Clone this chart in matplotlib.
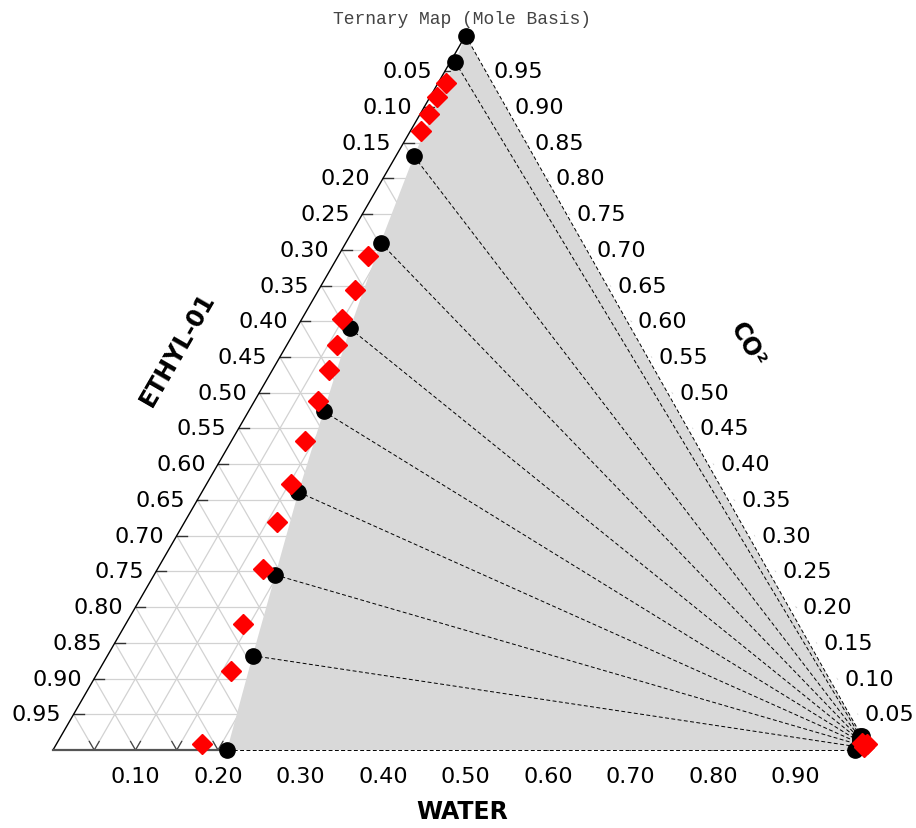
import numpy as np
import matplotlib
matplotlib.use("Agg")
import matplotlib.pyplot as plt

# ternary data: W = water fraction, C = CO2 fraction (ethyl = 1 - W - C)
# phase boundary points (organic side, black dots)
dot_w = [0.000, 0.006, 0.022, 0.042, 0.065, 0.091, 0.117, 0.147, 0.176, 0.211]
dot_c = [1.000, 0.963, 0.831, 0.710, 0.590, 0.474, 0.361, 0.245, 0.132, 0.000]

# water-rich ends of the tie lines
tie_w = [0.970, 0.969, 0.970, 0.971, 0.972, 0.973, 0.974, 0.975, 0.976, 0.972]
tie_c = [0.020, 0.019, 0.017, 0.015, 0.013, 0.011, 0.009, 0.007, 0.004, 0.000]

# red diamonds (second data set)
red_w = [0.010, 0.009, 0.011, 0.013, 0.036, 0.044, 0.049, 0.061, 0.069, 0.077,
         0.089, 0.103, 0.112, 0.128, 0.142, 0.160, 0.176,
         0.976, 0.979, 0.981, 0.983]
red_c = [0.933, 0.914, 0.890, 0.867, 0.692, 0.644, 0.603, 0.567, 0.532, 0.488,
         0.433, 0.372, 0.319, 0.254, 0.176, 0.111, 0.008,
         0.010, 0.007, 0.004, 0.008]

ticks = np.round(np.arange(0.05, 1.0, 0.05), 2)
bottom_ticks = np.round(np.arange(0.1, 0.95, 0.1), 2)

H = np.sqrt(3) / 2


def tern(w, c):
    w = np.asarray(w, dtype=float)
    c = np.asarray(c, dtype=float)
    return w + c / 2, c * H


fig = plt.figure(figsize=(9.16, 8.29), dpi=100)
ax = fig.add_axes([0, 0, 1, 1])
ax.set_xlim(-53 / 825, -53 / 825 + 916 / 825)
ax.set_ylim(-78 / 825, -78 / 825 + 829 / 825)
ax.axis("off")

# grid lines every 0.05
gc = "#d2d2d2"
for v in ticks:
    x, y = tern([0, 1 - v], [v, v])
    ax.plot(x, y, color=gc, lw=0.9, zorder=1)
    x, y = tern([v, v], [0, 1 - v])
    ax.plot(x, y, color=gc, lw=0.9, zorder=1)
    x, y = tern([1 - v, 0], [0, 1 - v])
    ax.plot(x, y, color=gc, lw=0.9, zorder=1)

# ticks (hidden under the two-phase region where they overlap)
tl = 0.012
for v in ticks:
    x, y = tern(0, v)
    ax.plot([x, x + tl], [y, y], color="#333333", lw=1.0, zorder=1.5)
    x, y = tern(v, 0)
    ax.plot([x, x + tl / 2], [y, y + tl * H], color="#444444", lw=0.9, zorder=1.5)
    ax.plot([x, x - tl / 2], [y, y + tl * H], color="#444444", lw=0.9, zorder=1.5)

# two-phase region
px, py = tern(dot_w + tie_w[::-1], dot_c + tie_c[::-1])
ax.fill(px, py, color="#d9d9d9", lw=0, zorder=2)
# blank strip between the outer tie line and the right edge
px, py = tern([dot_w[0], tie_w[0], tie_w[-1], 1.0], [dot_c[0], tie_c[0], tie_c[-1], 0.0])
ax.fill(px, py, color="white", lw=0, zorder=2)

# edges
x, y = tern([0, 0], [0, 1])
ax.plot(x, y, color="black", lw=1.0, zorder=3)
x, y = tern([0, dot_w[-1]], [0, 0])
ax.plot(x, y, color="#555555", lw=1.6, zorder=3)

# tie lines
for i in range(len(dot_w)):
    x, y = tern([dot_w[i], tie_w[i]], [dot_c[i], tie_c[i]])
    ax.plot(x, y, color="black", lw=0.7, ls=(0, (4, 2.5)), zorder=4)

x, y = tern(dot_w, dot_c)
ax.plot(x, y, "o", color="black", ms=11, zorder=5, ls="none")
x, y = tern(tie_w, tie_c)
ax.plot(x, y, "o", color="black", ms=11, zorder=5, ls="none")
x, y = tern(red_w, red_c)
ax.plot(x, y, "D", color="#ff0000", ms=10.5, mec="#ff0000", zorder=6, ls="none")

# tick labels
fs = 16
for v in ticks:
    x, y = tern(0, v)
    ax.text(x - 0.015, y, f"{1 - v:.2f}", ha="right", va="center", fontsize=fs)
    x, y = tern(1 - v, v)
    ax.text(x + 0.009, y, f"{v:.2f}", ha="left", va="center", fontsize=fs)
for v in bottom_ticks:
    x, y = tern(v, 0)
    ax.text(x, y - 0.031, f"{v:.2f}", ha="center", va="center", fontsize=fs)

# axis titles
ax.text(0.1515, 0.486, "ETHYL-01", rotation=60, ha="center", va="center",
        fontsize=17, fontweight="bold")
ax.text(0.8424, 0.492, "CO²", rotation=-60, ha="center", va="center",
        fontsize=17, fontweight="bold")
ax.text(0.4958, -0.0739, "WATER", ha="center", va="center",
        fontsize=17, fontweight="bold")
ax.text(0.4958, 0.887, "Ternary Map (Mole Basis)", ha="center", va="center",
        fontsize=13, family="Liberation Mono", color="#444444")

fig.savefig("out.png", dpi=100)
